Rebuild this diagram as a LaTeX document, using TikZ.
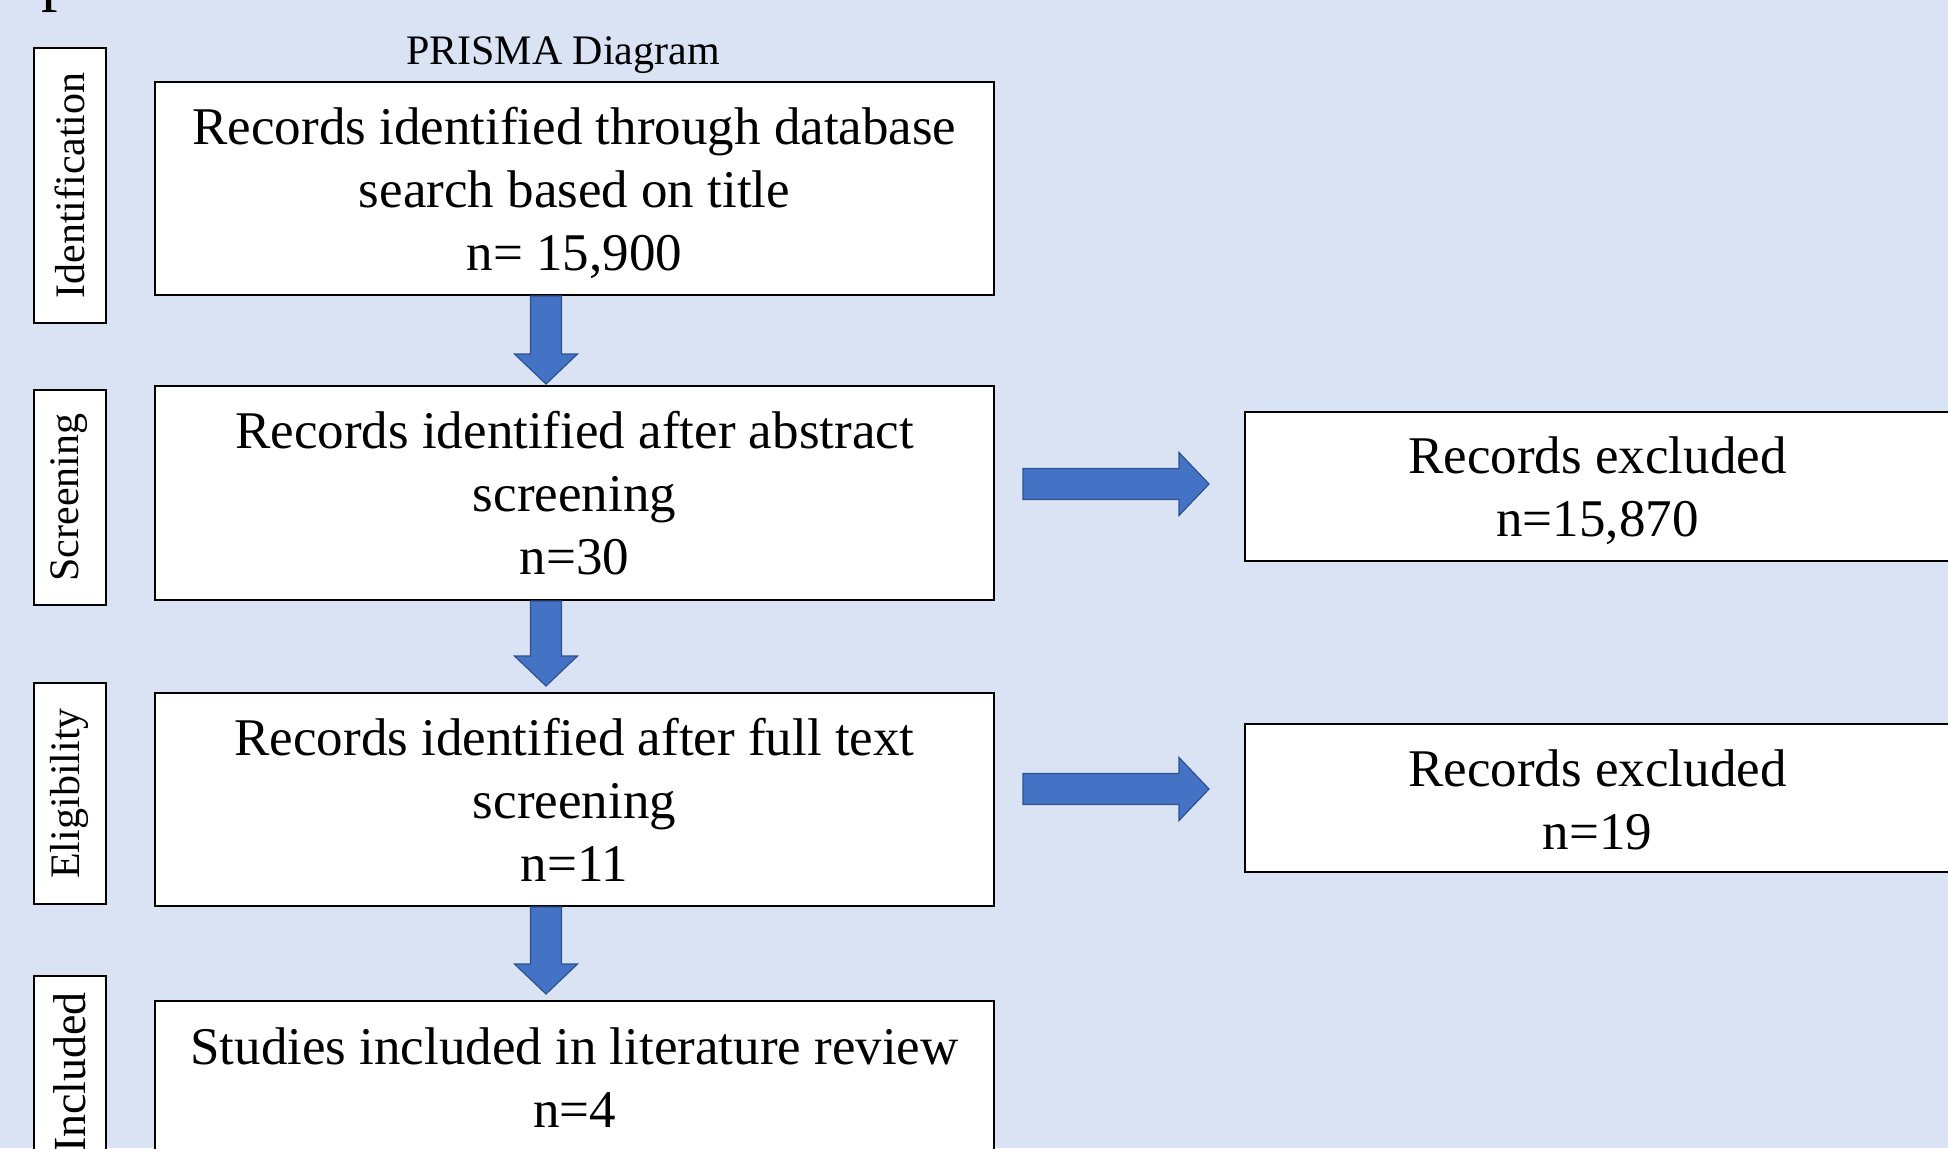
\documentclass[tikz,border=0pt]{standalone}
\usepackage{fontspec}
\setmainfont{Liberation Serif}
\usetikzlibrary{calc}
\definecolor{prbg}{HTML}{DAE3F3}
\definecolor{prarrow}{HTML}{4472C4}
\definecolor{predge}{HTML}{2F528F}

\begin{document}
\begin{tikzpicture}[x=1pt, y=-1pt,
      box/.style={draw=black, fill=white, line width=2pt, align=center, inner sep=0pt,
                  font=\fontsize{53}{63}\selectfont},
      stage/.style={draw=black, fill=white, line width=2pt, rotate=90, inner sep=0pt,
                  minimum height=72pt, font=\fontsize{42}{50}\selectfont},
      barrow/.style={draw=predge, fill=prarrow, line width=1.2pt, line join=miter, to path={
          ($(\tikztotarget)!30pt!(\tikztostart)$) coordinate (ah)
          ($(\tikztostart)!15.5pt!90:(\tikztotarget)$) -- ($(ah)!15.5pt!-90:(\tikztostart)$)
          -- ($(ah)!31.5pt!-90:(\tikztostart)$) -- (\tikztotarget)
          -- ($(ah)!31.5pt!90:(\tikztostart)$) -- ($(ah)!15.5pt!90:(\tikztostart)$)
          -- ($(\tikztostart)!15.5pt!-90:(\tikztotarget)$) -- cycle}}]

      \useasboundingbox (0,0) rectangle (1948,1148);
      \clip (0,0) rectangle (1948,1148);
      \fill[prbg] (0,0) rectangle (1948,1148);

      % cut-off heading
      \node[anchor=base west, inner sep=0pt, font=\fontsize{66}{78}\selectfont] (head) at (41,-1) {p};
      \node[anchor=base, inner sep=0pt, font=\fontsize{42}{50}\selectfont] (ttl) at (563,65) {PRISMA Diagram};

      % stages
      \node[stage, minimum width=275pt] (sid) at (69.5,185.5) {Identification};
      \node[stage, minimum width=215pt] (ssc) at (69.5,497.5) {Screening};
      \node[stage, minimum width=221pt] (sel) at (69.5,793.5) {Eligibility};
      \node[stage, minimum width=193pt, font=\fontsize{46}{54}\selectfont] (sin) at (69.5,1072.5) {Included};

      % main flow
      \node[box, minimum width=839pt, minimum height=213pt] (b1) at (574.5,188.5) {\rule{0pt}{46pt}Records identified through database\\search based on title\\n= 15,900};
      \node[box, minimum width=839pt, minimum height=214pt] (b2) at (574.5,493) {Records identified after abstract\\screening\\n=30};
      \node[box, minimum width=839pt, minimum height=213pt] (b3) at (574.5,799.5) {Records identified after full text\\screening\\n=11};
      \node[box, minimum width=839pt, minimum height=159pt] (b4) at (574.5,1080.5) {Studies included in literature review\\n=4\rule[-5pt]{0pt}{5pt}};

      % exclusions
      \node[box, minimum width=705pt, minimum height=149pt] (x1) at (1597.5,486.5) {\rule{0pt}{45pt}Records excluded\\n=15,870};
      \node[box, minimum width=705pt, minimum height=148pt] (x2) at (1597.5,798) {\rule{0pt}{40pt}Records excluded\\n=19};

      \coordinate (d1s) at ([xshift=-28.5pt]b1.south); \coordinate (d1e) at ([xshift=-28.5pt, yshift=1pt]b2.north);
      \coordinate (d2s) at ([xshift=-28.5pt]b2.south); \coordinate (d2e) at ([xshift=-28.5pt, yshift=6pt]b3.north);
      \coordinate (d3s) at ([xshift=-28.5pt]b3.south); \coordinate (d3e) at ([xshift=-28.5pt, yshift=6pt]b4.north);
      \coordinate (r1s) at ([xshift=28pt]b2.east |- x1.west); \coordinate (r1e) at ([xshift=-35pt]x1.west);
      \coordinate (r2s) at ([xshift=28pt]b3.east |- x2.west); \coordinate (r2e) at ([xshift=-35pt]x2.west);

      \draw[barrow] (d1s) to (d1e); \draw[barrow] (d2s) to (d2e); \draw[barrow] (d3s) to (d3e);
      \draw[barrow] ([yshift=2.5pt]r1s) to ([yshift=2.5pt]r1e);
      \draw[barrow] ([yshift=9pt]r2s) to ([yshift=9pt]r2e);
    \end{tikzpicture}
\end{document}
